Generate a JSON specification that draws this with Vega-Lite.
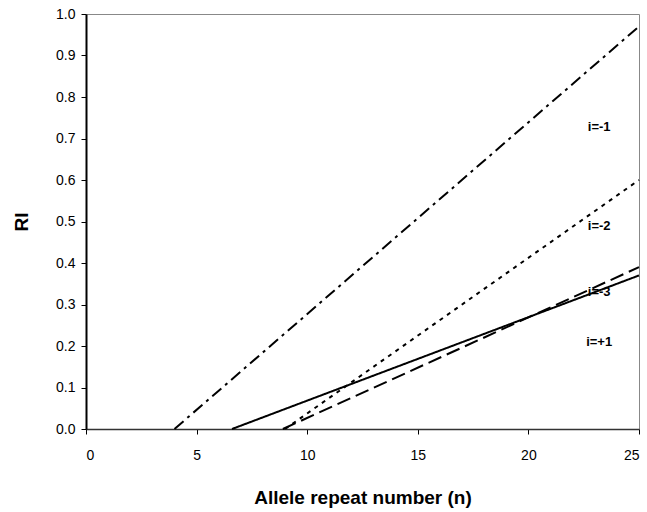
{
  "$schema": "https://vega.github.io/schema/vega-lite/v6.json",
  "autosize": {"type": "none"},
  "width": 553,
  "height": 415,
  "padding": {"left": 86, "top": 14, "right": 8, "bottom": 83},
  "background": "white",
  "config": {
    "view": {"stroke": "#888888", "strokeWidth": 1},
    "font": "Liberation Sans",
    "axis": {"grid": false, "domainColor": "#000000", "tickColor": "#000000", "labelColor": "#000000", "titleColor": "#000000", "labelFont": "Liberation Sans", "titleFont": "Liberation Sans"}
  },
  "datasets": {
    "lines": [
      {"series": "i=-1", "n": 4.0, "RI": 0.0},
      {"series": "i=-1", "n": 25, "RI": 0.97},
      {"series": "i=-2", "n": 9.0, "RI": 0.0},
      {"series": "i=-2", "n": 25, "RI": 0.60},
      {"series": "i=-3", "n": 8.9, "RI": 0.0},
      {"series": "i=-3", "n": 25, "RI": 0.39},
      {"series": "i=+1", "n": 6.6, "RI": 0.0},
      {"series": "i=+1", "n": 25, "RI": 0.37}
    ],
    "labels": [
      {"series": "i=-1", "n": 23.2, "RI": 0.728},
      {"series": "i=-2", "n": 23.2, "RI": 0.49},
      {"series": "i=-3", "n": 23.2, "RI": 0.33},
      {"series": "i=+1", "n": 23.2, "RI": 0.21}
    ]
  },
  "layer": [
    {
      "data": {"name": "lines"},
      "mark": {"type": "line", "color": "black", "strokeCap": "butt"},
      "encoding": {
        "x": {"field": "n", "type": "quantitative", "scale": {"domain": [0, 25], "nice": false},
          "axis": {"values": [0, 5, 10, 15, 20, 25], "title": "Allele repeat number (n)", "labelFontSize": 14, "titleFontSize": 19, "titleFontWeight": "bold", "tickSize": 5, "labelPadding": 14, "titlePadding": 26, "domainWidth": 1.5, "domainColor": "#333333"}},
        "y": {"field": "RI", "type": "quantitative", "scale": {"domain": [0, 1], "nice": false},
          "axis": {"values": [0, 0.1, 0.2, 0.3, 0.4, 0.5, 0.6, 0.7, 0.8, 0.9, 1.0], "format": ".1f", "title": "RI", "labelFontSize": 14, "titleFontSize": 19, "titleFontWeight": "bold", "tickSize": 5, "labelPadding": 6, "titlePadding": 24, "domainWidth": 2}},
        "detail": {"field": "series", "type": "nominal"},
        "strokeDash": {"field": "series", "type": "nominal", "legend": null,
          "scale": {"domain": ["i=-1", "i=-2", "i=-3", "i=+1"], "range": [[12, 5, 3, 5], [4, 5], [14, 6], [1, 0]]}},
        "strokeWidth": {"field": "series", "type": "nominal", "legend": null,
          "scale": {"domain": ["i=-1", "i=-2", "i=-3", "i=+1"], "range": [2, 2, 2, 1]}}
      }
    },
    {
      "data": {"name": "labels"},
      "mark": {"type": "text", "fontSize": 13, "fontWeight": "bold", "color": "black", "align": "center", "baseline": "middle"},
      "encoding": {
        "x": {"field": "n", "type": "quantitative"},
        "y": {"field": "RI", "type": "quantitative"},
        "text": {"field": "series", "type": "nominal"}
      }
    }
  ]
}
